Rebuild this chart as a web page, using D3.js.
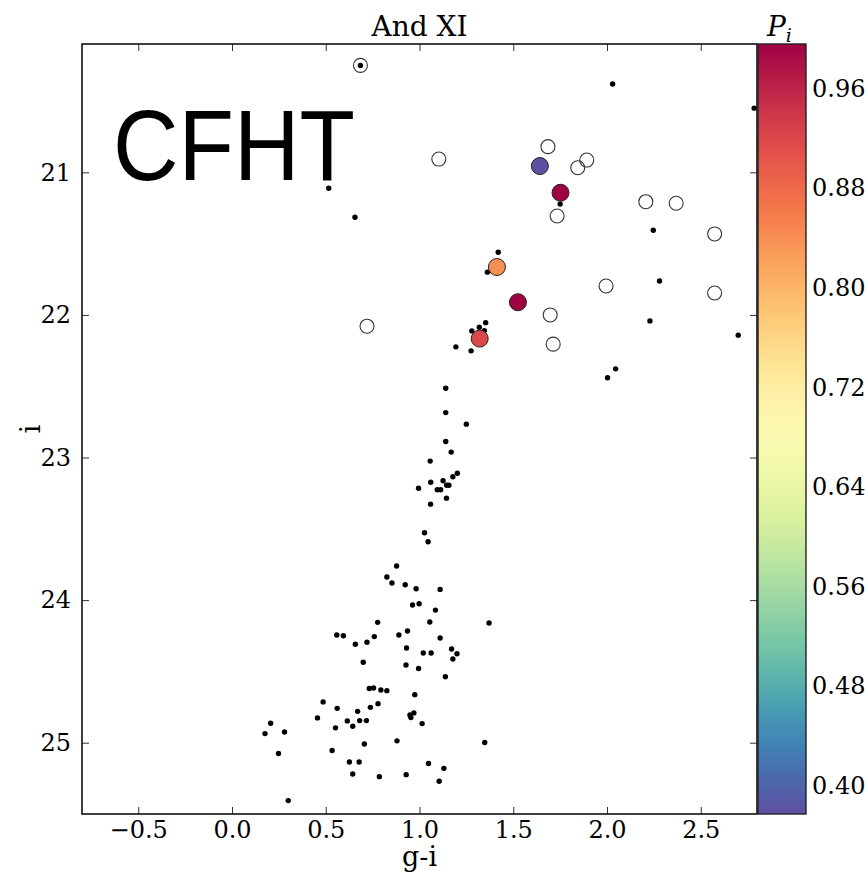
<!DOCTYPE html>
<html><head><meta charset="utf-8">
<script src="https://cdn.jsdelivr.net/npm/d3@7/dist/d3.min.js"></script>
<style>
body{margin:0;background:#fff;}
svg{display:block;}
.serif{font-family:'DejaVu Serif',serif;}
</style></head>
<body><svg id="c" width="865" height="876"></svg>
<script>
// ---- data ----
const title = "And XI";
const xLabel = "g-i";
const yLabel = "i";
const xTicks = [-0.5, 0.0, 0.5, 1.0, 1.5, 2.0, 2.5];
const yTicks = [21, 22, 23, 24, 25];
const cTicks = [0.40, 0.48, 0.56, 0.64, 0.72, 0.80, 0.88, 0.96];

// all stars (small black dots)
const dotGI = [0.685,2.03,2.785,0.516,0.656,1.75,2.247,1.42,1.362,2.28,2.229,2.70,1.353,1.319,1.279,1.346,1.194,1.275,2.003,2.046,
 1.14,1.14,1.25,1.14,1.169,1.057,1.202,1.178,1.126,1.06,1.145,1.157,1.095,1.113,0.995,1.144,1.059,1.027,1.046,
 0.878,0.826,0.853,0.924,0.982,1.11,0.963,0.998,1.085,0.777,1.055,1.371,0.559,0.594,0.658,0.72,0.759,0.89,0.936,1.11,0.931,1.02,1.062,1.171,1.20,1.178,0.70,0.928,0.995,1.138,
 0.732,0.755,0.794,0.826,0.975,0.486,0.561,0.67,0.738,0.779,0.456,0.615,0.644,0.681,0.717,0.552,0.949,0.954,0.97,1.014,0.206,0.176,0.28,0.706,0.88,1.348,0.248,0.534,0.626,0.678,1.048,1.13,0.644,0.786,0.929,1.105,0.30];
const dotI = [20.25,20.38,20.55,21.112,21.315,21.222,21.406,21.56,21.70,21.762,22.042,22.142,22.054,22.086,22.112,22.11,22.224,22.252,22.441,22.378,
 22.514,22.685,22.766,22.888,22.962,23.025,23.11,23.135,23.163,23.173,23.194,23.194,23.226,23.226,23.215,23.285,23.327,23.528,23.591,
 23.761,23.838,23.88,23.892,23.92,23.925,24.034,24.025,24.07,24.156,24.154,24.16,24.245,24.25,24.31,24.296,24.256,24.245,24.217,24.266,24.336,24.371,24.371,24.343,24.376,24.413,24.436,24.455,24.48,24.537,
 24.62,24.616,24.63,24.635,24.663,24.714,24.759,24.78,24.752,24.726,24.826,24.847,24.885,24.845,24.845,24.896,24.805,24.824,24.791,24.866,24.864,24.936,24.925,25.009,24.987,24.999,25.076,25.055,25.135,25.135,25.146,25.18,25.219,25.238,25.224,25.27,25.406];

// candidate stars (open circles)
const openGI = [0.685,1.103,1.685,1.844,1.892,1.734,2.207,2.369,2.574,1.995,2.574,1.697,0.72,1.713];
const openI  = [20.25,20.907,20.82,20.968,20.914,21.306,21.206,21.217,21.432,21.797,21.846,22.0,22.079,22.205];

// members with membership probability P_i
const memGI = [1.642,1.752,1.413,1.525,1.321];
const memI  = [20.956,21.143,21.664,21.911,22.166];
const memP  = [0.377,0.996,0.84,0.994,0.92];

// ---- layout ----
const svg = d3.select("#c");
const L=82, R=757, T=44, B=814;
const cbL=758, cbR=806;
const x = d3.scaleLinear().domain([-0.8,2.8]).range([L,R]);
const y = d3.scaleLinear().domain([20.1,25.5]).range([T,B]);
const pExt = d3.extent(memP);
const cy = d3.scaleLinear().domain(pExt).range([B,T]);
const col = p => d3.interpolateSpectral(1-(p-pExt[0])/(pExt[1]-pExt[0]));

const defs = svg.append("defs");
defs.append("clipPath").attr("id","clip").append("rect").attr("x",L).attr("y",T).attr("width",R-L).attr("height",B-T);
const grad = defs.append("linearGradient").attr("id","cg").attr("x1",0).attr("y1",1).attr("x2",0).attr("y2",0);
d3.range(0,1.0001,0.02).forEach(t=>grad.append("stop").attr("offset",t).attr("stop-color",d3.interpolateSpectral(1-t)));

// CFHT label
svg.append("text").attr("x",113).attr("y",180).attr("font-family","'Liberation Sans',Arial,sans-serif")
 .attr("font-size",100).attr("textLength",242).attr("lengthAdjust","spacingAndGlyphs").text("CFHT");

const g = svg.append("g").attr("clip-path","url(#clip)");
g.selectAll(".d").data(dotGI.map((v,i)=>[v,dotI[i]])).enter().append("circle")
 .attr("cx",d=>x(d[0])).attr("cy",d=>y(d[1])).attr("r",2.7).attr("fill","#000");
g.selectAll(".o").data(openGI.map((v,i)=>[v,openI[i]])).enter().append("circle")
 .attr("cx",d=>x(d[0])).attr("cy",d=>y(d[1])).attr("r",7).attr("fill","none").attr("stroke","#333").attr("stroke-width",1.1);
g.selectAll(".m").data(memGI.map((v,i)=>[v,memI[i],memP[i]])).enter().append("circle")
 .attr("cx",d=>x(d[0])).attr("cy",d=>y(d[1])).attr("r",8.5).attr("fill",d=>col(d[2])).attr("stroke","#222").attr("stroke-width",1);

// axes
const fs = 24;
const FF = "'DejaVu Serif',serif";
const ax = svg.append("g");
function styleAxis(s){ s.attr("font-family",FF).attr("font-size",fs); s.select(".domain").remove();
  s.selectAll(".tick line").attr("stroke","#333").attr("stroke-width",1);
  s.selectAll("text").attr("fill","#000"); }
ax.append("g").attr("transform",`translate(0,${B})`).call(d3.axisBottom(x).tickValues(xTicks).tickSize(-7).tickPadding(7).tickFormat(d3.format(".1f"))).call(styleAxis);
ax.append("g").attr("transform",`translate(0,${T})`).call(d3.axisTop(x).tickValues(xTicks).tickSize(-7).tickFormat("")).call(styleAxis);
ax.append("g").attr("transform",`translate(${L},0)`).call(d3.axisLeft(y).tickValues(yTicks).tickSize(-7).tickPadding(11).tickFormat(d3.format("d"))).call(styleAxis);
ax.append("g").attr("transform",`translate(${R},0)`).call(d3.axisRight(y).tickValues(yTicks).tickSize(-7).tickFormat("")).call(styleAxis);
svg.append("rect").attr("x",L).attr("y",T).attr("width",R-L).attr("height",B-T).attr("fill","none").attr("stroke","#111").attr("stroke-width",1.6);

// colorbar
svg.append("rect").attr("x",cbL).attr("y",T).attr("width",cbR-cbL).attr("height",B-T).attr("fill","url(#cg)");
ax.append("g").attr("transform",`translate(${cbR},0)`).call(d3.axisRight(cy).tickValues(cTicks).tickSize(-5).tickPadding(6).tickFormat(d3.format(".2f"))).call(styleAxis);
svg.append("rect").attr("x",cbL).attr("y",T).attr("width",cbR-cbL).attr("height",B-T).attr("fill","none").attr("stroke","#222").attr("stroke-width",1.4);

// titles
svg.append("text").attr("class","serif").attr("x",(L+R)/2).attr("y",36).attr("text-anchor","middle").attr("font-size",28).text(title);
const pt = svg.append("text").attr("class","serif").attr("x",767).attr("y",36).attr("font-size",28).attr("font-style","italic");
pt.append("tspan").text("P");
pt.append("tspan").attr("dy",6).attr("font-size",19).text("i");
svg.append("text").attr("class","serif").attr("x",(L+R)/2).attr("y",866).attr("text-anchor","middle").attr("font-size",27).text(xLabel);
svg.append("text").attr("class","serif").attr("transform",`translate(40,${(T+B)/2}) rotate(-90)`).attr("text-anchor","middle").attr("font-size",28).text(yLabel);
</script></body></html>
